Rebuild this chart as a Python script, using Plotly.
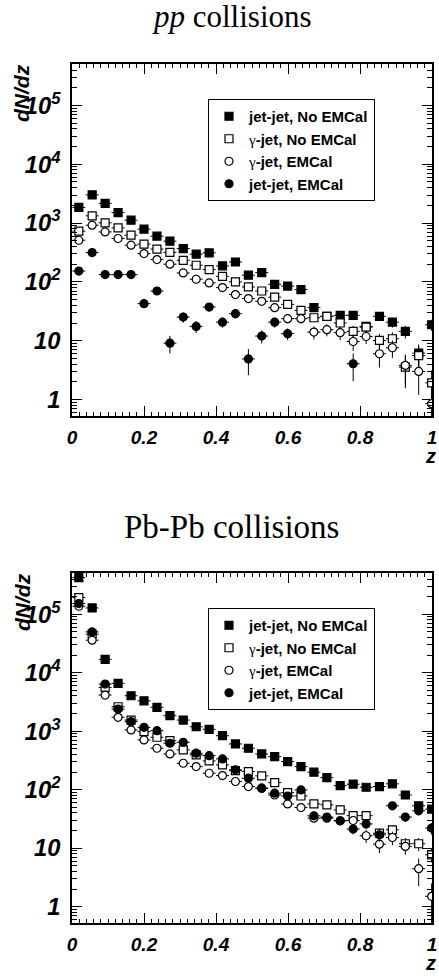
import plotly.graph_objects as go

# bin centres in z
z = [0.019, 0.056, 0.092, 0.128, 0.164, 0.200, 0.236, 0.272, 0.309, 0.345,
     0.381, 0.418, 0.454, 0.490, 0.527, 0.563, 0.599, 0.636, 0.672, 0.708,
     0.745, 0.781, 0.817, 0.854, 0.890, 0.926, 0.963, 0.999]

names = ["jet-jet, No EMCal",
         "<span style='font-family:Liberation Serif;font-weight:normal'>γ</span>-jet, No EMCal",
         "<span style='font-family:Liberation Serif;font-weight:normal'>γ</span>-jet, EMCal",
         "jet-jet, EMCal"]

# pp collisions
pp_jj_noemc = [1845, 3020, 2160, 1510, 1120, 788, 598, 492, 369, 297, 312, 187, 218, 130,
               144, 91, 85, 74, 36.5, 26, 27, 27, 17.5, 26, 20.7, 14.4, 6.15, 18.7]
pp_jj_noemc_err = [0, 0, 0, 0, 0, 0, 0, 0, 0, 0, 0, 0, 0, 0,
                   0, 0, 0, 0, 5, 4, 4, 4, 3.5, 4, 4, 3.5, 2.5, 4]
pp_gj_noemc = [728, 1327, 1010, 829, 623, 440, 362, 318, 233, 192, 162, 124, 100, 82,
               70, 55, 41.5, 32.8, 24.6, 26, 20, 14.4, 17, 10.1, 10.8, 3.55, 5.6, 1.92]
pp_gj_noemc_err = [0, 0, 0, 0, 0, 0, 0, 0, 0, 0, 0, 0, 0, 0,
                   0, 0, 0, 0, 4, 4, 4, 3.5, 3.5, 3, 3, 2, 2.4, 1.2]
pp_gj_emc = [511, 920, 708, 547, 421, 303, 240, 200, 142, 111, 96, 80, 61, 52,
             46.7, 36.5, 23.7, 23.7, 14, 15.4, 13.7, 9.7, 11.8, 6, 7.6, 3.8, 3.0, 0.85]
pp_gj_emc_err = [0, 0, 0, 0, 0, 0, 0, 0, 0, 0, 0, 0, 0, 0,
                 0, 0, 4, 4, 3.5, 3.5, 3.5, 3, 3, 2.5, 2.5, 2, 1.8, 0.8]
pp_jj_emc = [153, 315, 133, 133, 133, 42.7, 70, 9.1, 25.2, 17.5, 37.4, 20.7, 28.8, 4.9,
             12, 20.7, 13.2, None, None, None, None, 4.06, None, None, None, None, None, None]
pp_jj_emc_err = [0, 0, 0, 0, 0, 6, 8, 3, 5, 4, 6, 4, 5, 2.3,
                 3, 4, 3, 0, 0, 0, 0, 2, 0, 0, 0, 0, 0, 0]

# Pb-Pb collisions
pbpb_jj_noemc = [423000, 128000, 16900, 6560, 4040, 3310, 2560, 1840, 1550, 1190, 1077, 837,
                 605, 511, 408, 367, 302, 248, 199, 161, 117, 124, 110, 113, 126, 81, 53, 46.5]
pbpb_jj_noemc_err = [0, 0, 0, 0, 0, 0, 0, 0, 0, 0, 0, 0, 0, 0,
                     0, 0, 0, 0, 0, 0, 0, 0, 0, 0, 0, 8, 8, 7]
pbpb_gj_noemc = [193000, 45600, 5610, 2620, 1550, 982, 787, 689, 478, 393, 310, 265, 212, 204,
                 172, 132, 89, 78, 57, 55, 45, 36, 36, 18, 20.6, 11.9, 11.9, 7.7]
pbpb_gj_noemc_err = [0, 0, 0, 0, 0, 0, 0, 0, 0, 0, 0, 0, 0, 0,
                     0, 0, 0, 0, 6, 6, 5, 5, 5, 3.5, 4, 3, 3, 2]
pbpb_gj_emc = [137000, 36000, 4150, 1727, 1050, 708, 511, 408, 283, 248, 191, 174, 138, 113,
               106, 81, 57, 49.5, 32.6, 32.6, 29.4, 29.7, 16.3, 11.7, 15.2, 10.7, 4.45, 1.5]
pbpb_gj_emc_err = [0, 0, 0, 0, 0, 0, 0, 0, 0, 0, 0, 0, 0, 0,
                   0, 0, 0, 0, 5, 5, 5, 5, 4, 3.5, 4, 3, 2.2, 1]
pbpb_jj_emc = [152000, 49900, 6380, 2390, 1455, 1166, 1020, 622, 647, 420, 382, 336, 218, 157,
               106, 87, 78, 99, 35.7, 34, 29.4, 21.2, 26, 16.9, 53, 34, 43.5, 22]
pbpb_jj_emc_err = [0, 0, 0, 0, 0, 0, 0, 0, 0, 0, 0, 0, 0, 0,
                   0, 0, 0, 0, 5, 5, 5, 4, 5, 4, 7, 6, 7, 5]

half_bin = 0.018

styles = [dict(symbol="square", color="black"),
          dict(symbol="square", color="white"),
          dict(symbol="circle", color="white"),
          dict(symbol="circle", color="black")]

fig = go.Figure()

panels = [
    ("x", "y", "legend", [pp_jj_noemc, pp_gj_noemc, pp_gj_emc, pp_jj_emc],
     [pp_jj_noemc_err, pp_gj_noemc_err, pp_gj_emc_err, pp_jj_emc_err]),
    ("x2", "y2", "legend2", [pbpb_jj_noemc, pbpb_gj_noemc, pbpb_gj_emc, pbpb_jj_emc],
     [pbpb_jj_noemc_err, pbpb_gj_noemc_err, pbpb_gj_emc_err, pbpb_jj_emc_err]),
]

for xa, ya, leg, series, errs in panels:
    for name, vals, err, st in zip(names, series, errs, styles):
        fig.add_trace(go.Scatter(
            x=z, y=vals, mode="markers", name=name, xaxis=xa, yaxis=ya, legend=leg,
            marker=dict(symbol=st["symbol"], size=8, color=st["color"],
                        line=dict(color="black", width=1.2)),
            error_y=dict(type="data", array=err, color="black", thickness=1, width=0),
            error_x=dict(type="constant", value=half_bin, color="black", thickness=1, width=0),
        ))

W, H = 439, 976
xdom = [72 / W, 432 / W]
tickfont = dict(family="Liberation Sans", size=19, color="black", weight="bold", style="italic")


def xaxis_cfg(anchor):
    return dict(domain=xdom, anchor=anchor, range=[0, 1], showgrid=False, zeroline=False,
                automargin=False,
                showline=True, linecolor="black", linewidth=1.5, mirror="ticks",
                ticks="inside", ticklen=10, tickcolor="black", tickwidth=1,
                tickmode="linear", tick0=0, dtick=0.2, tickformat="~g",
                tickfont=tickfont, ticklabelstandoff=3,
                minor=dict(ticks="inside", ticklen=4, dtick=0.02, tick0=0,
                           tickcolor="black", showgrid=False))


def xaxis_mid(over, anchor):
    # medium ticks every 0.1, no labels
    return dict(domain=xdom, anchor=anchor, overlaying=over, range=[0, 1], automargin=False,
                showgrid=False, zeroline=False, showline=False, mirror="ticks",
                ticks="inside", ticklen=7, tickcolor="black", tickwidth=1,
                tickmode="linear", tick0=0, dtick=0.1, showticklabels=False)


def yaxis_cfg(anchor, top, bottom):
    return dict(domain=[1 - bottom / H, 1 - top / H], anchor=anchor, type="log",
                range=[-0.28, 5.705], showgrid=False, zeroline=False, automargin=False,
                showline=True, linecolor="black", linewidth=1.5, mirror="ticks",
                ticks="inside", ticklen=10, tickcolor="black", tickwidth=1,
                tickmode="linear", tick0=0, dtick=1, exponentformat="power",
                tickfont=tickfont, ticklabelstandoff=6,
                minor=dict(ticks="inside", ticklen=5, dtick="D1",
                           tickcolor="black", showgrid=False))


legfont = dict(family="Liberation Sans", size=15, color="black", weight="bold")

fig.update_layout(
    width=W, height=H, margin=dict(l=0, r=0, t=0, b=0, autoexpand=False),
    paper_bgcolor="white", plot_bgcolor="white",
    xaxis=xaxis_cfg("y"), yaxis=yaxis_cfg("x", 64, 416),
    xaxis2=xaxis_cfg("y2"), yaxis2=yaxis_cfg("x2", 573, 923),
    xaxis3=xaxis_mid("x", "y"), xaxis4=xaxis_mid("x2", "y2"),
    legend=dict(x=208 / W, y=1 - 99 / H, xanchor="left", yanchor="top",
                bordercolor="black", borderwidth=1, bgcolor="white",
                font=legfont, tracegroupgap=0),
    legend2=dict(x=208 / W, y=1 - 608 / H, xanchor="left", yanchor="top",
                 bordercolor="black", borderwidth=1, bgcolor="white",
                 font=legfont, tracegroupgap=0),
)

lab_font = dict(family="Liberation Sans", size=20, color="black", weight="bold", style="italic")

fig.add_annotation(text="<i>pp</i> collisions", x=232 / W, y=1 - 16 / H, xref="paper", yref="paper",
                   showarrow=False, font=dict(family="Liberation Serif", size=31, color="black"),
                   xanchor="center", yanchor="middle")
fig.add_annotation(text="Pb-Pb collisions", x=231 / W, y=1 - 527 / H, xref="paper", yref="paper",
                   showarrow=False, font=dict(family="Liberation Serif", size=33, color="black"),
                   xanchor="center", yanchor="middle")

for top, bottom in [(64, 416), (573, 923)]:
    fig.add_annotation(text="dN/dz", textangle=-90, x=22 / W, y=1 - (top - 2) / H,
                       xref="paper", yref="paper", showarrow=False,
                       font=dict(lab_font, size=21), xanchor="center", yanchor="top")
    fig.add_annotation(text="z", x=430 / W, y=1 - (bottom + 53) / H,
                       xref="paper", yref="paper", showarrow=False, font=lab_font,
                       xanchor="center", yanchor="bottom")

# drop the default page margin so the figure sits at the window's corner
fig.write_html("out.html", config={"displayModeBar": False},
               post_script="document.body.style.margin='0';")
